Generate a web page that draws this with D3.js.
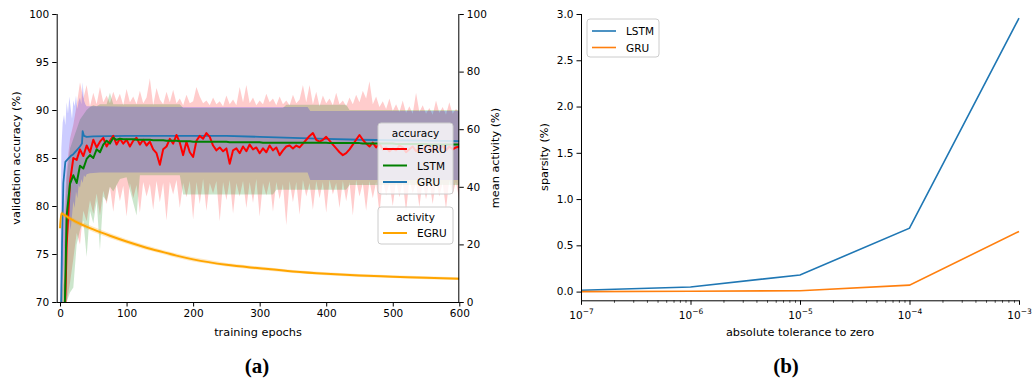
<!DOCTYPE html>
<html>
<head>
<meta charset="utf-8">
<script src="https://cdn.jsdelivr.net/npm/d3@7"></script>
<style>
  body { margin: 0; background: #fff; }
  svg text { font-family: 'DejaVu Sans', sans-serif; fill: #000; }
</style>
</head>
<body>
<svg id="chart" width="1034" height="381"></svg>
<script>
// ---------- data, panel (a) ----------
const epochs5 = d3.range(0, 601, 5);

const egruMean = [
  55, 62, 76, 82.5, 85.0, 84.8, 85.9, 85.2, 86.3, 85.6,
  86.9, 86.1, 86.7, 87.1, 86.2, 86.8, 87.3, 86.4, 87.0, 86.5,
  86.9, 86.2, 86.8, 87.1, 86.4, 86.9, 86.3, 86.7, 85.9, 85.5,
  84.3, 85.9, 86.2, 87.0, 86.5, 87.4, 86.6, 85.3, 86.7, 85.6,
  85.1, 86.8, 87.3, 87.0, 87.6, 87.2, 86.3, 85.8, 86.1, 85.7,
  86.0, 84.4, 85.8, 86.0, 85.5, 86.2, 85.7, 86.4, 85.9, 86.1,
  85.5, 86.0, 85.6, 86.3, 85.8, 86.1, 85.3, 85.8, 86.2, 86.3,
  86.0, 86.3, 86.1, 86.5, 86.9, 87.3, 87.6, 86.9, 86.7, 86.9,
  87.2, 86.8, 86.4, 86.0, 85.6, 85.3, 85.5, 85.9, 86.4, 86.9,
  87.4, 86.9, 86.5, 86.2, 86.6, 86.1, 86.5, 85.9, 86.1, 85.7,
  86.0, 85.8, 86.3, 86.1, 85.6, 85.9, 86.2, 85.7, 86.0, 85.8,
  86.4, 86.1, 85.7, 86.0, 85.9, 86.3, 85.8, 86.2, 85.9, 86.1,
  86.2
];
const egruHi = [
  70, 78, 84, 87, 88.5, 90.5, 92.9, 91.2, 92.6, 90.4,
  91.8, 90.6, 92.4, 90.8, 91.5, 90.7, 91.9, 90.9, 91.7, 90.5,
  92.2, 90.8, 91.4, 90.6, 92.0, 90.7, 91.3, 93.3, 90.5, 92.3,
  91.1, 90.6, 91.9, 90.8, 92.1, 90.7, 91.2, 90.5, 91.6, 90.7,
  90.9, 92.4, 91.4, 90.7, 91.0, 90.5, 91.3, 90.6, 90.9, 90.4,
  91.5, 90.6, 91.1, 90.5, 92.4, 90.8, 92.6, 90.7, 91.3, 90.5,
  91.0, 90.6, 91.7, 90.8, 91.2, 90.5, 91.4, 90.6, 91.0, 90.5,
  91.6, 90.7, 91.1, 92.6, 90.8, 92.6, 90.6, 91.9, 90.4, 91.5,
  90.7, 91.2, 90.5, 91.8, 90.6, 91.0, 90.4, 91.3, 90.6, 91.6,
  90.8, 92.0, 91.2, 93.0, 90.6, 91.4, 90.3, 90.9, 90.1, 91.2,
  89.9, 90.6, 89.8, 91.0, 89.7, 90.4, 89.6, 91.8, 89.8, 90.5,
  89.6, 90.2, 89.5, 91.0, 89.7, 90.3, 89.5, 90.8, 89.6, 90.1,
  89.8
];
const egruLo = [
  70, 70, 70, 72, 74.5, 77.2, 76.0, 79.5, 78.4, 80.6,
  79.2, 81.3, 79.0, 81.6, 80.2, 82.0, 79.4, 82.3, 80.5, 82.1,
  78.9, 82.4, 80.8, 82.2, 79.3, 82.5, 81.0, 82.3, 79.6, 82.6,
  80.4, 82.4, 78.5, 82.5, 81.2, 82.7, 79.8, 82.4, 80.9, 82.6,
  78.6, 82.5, 80.2, 82.8, 79.5, 82.4, 81.3, 82.6, 78.4, 82.5,
  80.6, 82.7, 79.2, 82.4, 81.0, 82.6, 79.8, 82.5, 80.3, 82.8,
  78.9, 82.4, 81.1, 82.6, 79.4, 82.5, 80.7, 82.3, 78.0, 82.6,
  80.4, 82.5, 79.1, 82.7, 81.0, 82.4, 79.6, 82.6, 80.8, 82.5,
  79.3, 82.7, 81.2, 82.4, 79.8, 82.6, 80.5, 82.5, 79.0, 82.7,
  81.0, 82.4, 79.5, 82.6, 80.8, 82.5, 79.2, 82.7, 81.1, 82.4,
  80.0, 82.6, 80.9, 82.5, 79.4, 82.7, 81.3, 82.4, 79.9, 82.6,
  80.7, 82.5, 80.2, 82.6, 81.0, 82.4, 79.7, 82.7, 81.2, 82.5,
  80.6
];

const lstmMean = [
  50, 62, 79, 82.3, 83.2, 82.4, 84.2, 83.9, 84.9, 85.3,
  85.0, 85.9, 85.6, 86.4, 86.8, 86.5, 87.1, 86.9, 87.0, 86.95,
  86.95, 86.95, 86.95, 86.9, 86.9, 86.9, 86.9, 86.9, 86.85, 86.85,
  86.85, 86.85, 86.8, 86.8, 86.8, 86.8, 86.75, 86.75, 86.75, 86.75,
  86.7, 86.7, 86.7, 86.7, 86.7, 86.7, 86.7, 86.7, 86.7, 86.7,
  86.7, 86.65, 86.65, 86.65, 86.65, 86.65, 86.65, 86.65, 86.65, 86.65,
  86.65, 86.6, 86.6, 86.6, 86.6, 86.6, 86.6, 86.6, 86.6, 86.6,
  86.6, 86.6, 86.6, 86.6, 86.6, 86.6, 86.6, 86.6, 86.6, 86.6,
  86.6, 86.55, 86.55, 86.55, 86.55, 86.55, 86.55, 86.55, 86.55, 86.55,
  86.55, 86.5, 86.5, 86.5, 86.5, 86.5, 86.5, 86.5, 86.5, 86.5,
  86.5, 86.45, 86.45, 86.45, 86.45, 86.45, 86.45, 86.45, 86.45, 86.45,
  86.45, 86.4, 86.4, 86.4, 86.4, 86.4, 86.4, 86.4, 86.4, 86.4,
  86.4
];
const lstmBandEpochs = [0, 5, 10, 15, 20, 25, 30, 35, 40, 45, 50, 55, 60, 65, 70, 75, 80, 90, 100, 115, 120, 180, 185, 320, 325, 335, 340, 430, 435, 600];
const lstmBandHi = [70, 72, 83, 86, 87, 88, 89, 89.5, 90, 90.3, 90.5, 90.4, 90.6, 90.6, 90.6, 91.8, 90.6, 90.6, 90.6, 90.6, 90.6, 90.6, 90.2, 90.2, 90.2, 90.2, 90.55, 90.55, 90.0, 90.0];
const lstmBandLo = [70, 70, 70, 71, 71.5, 76, 77.5, 78.5, 74.7, 79.5, 78.2, 80.5, 75.4, 81, 80.5, 82, 81.5, 82.8, 83, 79, 83.2, 83.2, 81.2, 81.2, 81.7, 81.7, 81.7, 81.7, 82.2, 82.2];

const gruEpochs = [0, 3, 5, 8, 12, 16, 20, 25, 30, 33, 34, 36, 40, 50, 100, 150, 200, 250, 300, 350, 400, 450, 500, 550, 600];
const gruMean = [60, 76, 82.4, 84.6, 84.9, 85.2, 85.4, 85.8, 86.2, 86.5, 87.8, 87.3, 87.2, 87.25, 87.3, 87.3, 87.3, 87.3, 87.2, 87.1, 87.0, 86.9, 86.85, 86.8, 86.75];
const gruBandEpochs = [0, 2, 4, 6, 8, 10, 12, 14, 16, 18, 20, 22, 24, 26, 28, 30, 32, 34, 36, 38, 40, 45, 60, 100, 200, 300, 372, 376, 600];
const gruBandHi = [70, 86, 88.7, 89.5, 88.4, 90.8, 89.6, 91.4, 90.2, 89.1, 91.0, 90.4, 91.5, 90.1, 90.9, 91.3, 90.6, 92.9, 91.0, 90.6, 90.4, 90.4, 90.4, 90.35, 90.3, 90.3, 90.3, 89.9, 89.9];
const gruBandLo = [70, 70, 72, 74, 76.5, 75, 77, 78.5, 77.5, 79, 80.5, 79.8, 81.5, 80.8, 82.2, 81.9, 82.8, 82.4, 83.2, 83.0, 83.3, 83.4, 83.5, 83.5, 83.5, 83.5, 83.5, 82.7, 82.7];

const activityEpochs = [0, 2, 5, 10, 25, 50, 75, 100, 125, 150, 175, 200, 250, 300, 350, 400, 450, 500, 550, 600];
const activityMean = [25.6, 30.8, 30.4, 29.7, 27.7, 25.2, 23.0, 21.0, 19.2, 17.6, 16.1, 14.8, 12.9, 11.7, 10.6, 9.8, 9.2, 8.8, 8.4, 8.1];
const activityStd = [1.5, 1.0, 0.9, 0.8, 0.8, 0.9, 0.9, 0.8, 0.8, 0.7, 0.7, 0.7, 0.6, 0.6, 0.5, 0.5, 0.5, 0.5, 0.5, 0.5];

const accTicks = [70, 75, 80, 85, 90, 95, 100];
const actTicks = [0, 20, 40, 60, 80, 100];
const epochTicks = [0, 100, 200, 300, 400, 500, 600];

// ---------- data, panel (b) ----------
const tolerance = [1e-7, 1e-6, 1e-5, 1e-4, 1e-3];
const lstmSparsity = [0.015, 0.05, 0.18, 0.685, 2.955];
const gruSparsity = [0.0, 0.004, 0.01, 0.07, 0.65];
const sparsityTicks = [0, 0.5, 1.0, 1.5, 2.0, 2.5, 3.0];
const tolTicks = [1e-7, 1e-6, 1e-5, 1e-4, 1e-3];

const svg = d3.select('#chart');
const fs = 10.5;
const labelFs = 11.3;

// ================= panel (a) =================
const x = d3.scaleLinear().domain([-5, 600]).range([56.7, 459.3]);
const y = d3.scaleLinear().domain([70, 100]).range([302, 14]);
const yAct = d3.scaleLinear().domain([0, 100]).range([302, 14]);

svg.append('clipPath').attr('id', 'clipA')
  .append('rect').attr('x', 56.7).attr('y', 14).attr('width', 402.6).attr('height', 288);

const plotA = svg.append('g').attr('clip-path', 'url(#clipA)');

function band(xs, lo, hi, color, opacity, yScale) {
  const pts = xs.map((e, i) => ({ e, lo: lo[i], hi: hi[i] }));
  plotA.append('path')
    .datum(pts)
    .attr('fill', color)
    .attr('fill-opacity', opacity)
    .attr('d', d3.area().x(d => x(d.e)).y0(d => yScale(d.lo)).y1(d => yScale(d.hi)));
}

function line(xs, vals, color, width, yScale, curve) {
  plotA.append('path')
    .datum(xs.map((e, i) => ({ e, v: vals[i] })))
    .attr('fill', 'none')
    .attr('stroke', color)
    .attr('stroke-width', width)
    .attr('stroke-linejoin', 'round')
    .attr('d', d3.line().x(d => x(d.e)).y(d => yScale(d.v)).curve(curve || d3.curveLinear));
}

band(epochs5, egruLo, egruHi, '#ff0000', 0.2, y);
band(lstmBandEpochs, lstmBandLo, lstmBandHi, '#008000', 0.2, y);
band(gruBandEpochs, gruBandLo, gruBandHi, '#0000ff', 0.2, y);

line(gruEpochs, gruMean, '#1f77b4', 1.8, y);
line(epochs5, egruMean, '#ff0000', 2, y);
line(epochs5, lstmMean, '#008000', 2, y);

band(activityEpochs,
  activityMean.map((v, i) => v - activityStd[i]),
  activityMean.map((v, i) => v + activityStd[i]),
  '#ffa500', 0.25, yAct);
line(activityEpochs, activityMean, '#ffa500', 2, yAct, d3.curveMonotoneX);

// axes (a)
const axA = svg.append('g').attr('transform', 'translate(0,302)')
  .call(d3.axisBottom(x).tickValues(epochTicks).tickSize(4.5).tickPadding(3));
const ayA = svg.append('g').attr('transform', 'translate(56.7,0)')
  .call(d3.axisLeft(y).tickValues(accTicks).tickSize(4.5).tickPadding(3));
const ayA2 = svg.append('g').attr('transform', 'translate(459.3,0)')
  .call(d3.axisRight(yAct).tickValues(actTicks).tickSize(4.5).tickPadding(3));

[axA, ayA, ayA2].forEach(g => {
  g.selectAll('.domain').attr('stroke', '#000').attr('stroke-width', 1);
  g.selectAll('.tick line').attr('stroke', '#000');
  g.selectAll('.tick text').style('font-size', fs + 'px').attr('fill', '#000');
});
// spines without outer ticks
axA.select('.domain').attr('d', 'M56.7,0.5H459.3');
ayA.select('.domain').attr('d', 'M0.5,302V14');
ayA2.select('.domain').attr('d', 'M-0.5,302V14');

svg.append('text').attr('x', 258).attr('y', 336).attr('text-anchor', 'middle')
  .style('font-size', labelFs + 'px').text('training epochs');
svg.append('text').attr('transform', 'translate(20,158) rotate(-90)').attr('text-anchor', 'middle')
  .style('font-size', labelFs + 'px').text('validation accuracy (%)');
svg.append('text').attr('transform', 'translate(499,158) rotate(-90)').attr('text-anchor', 'middle')
  .style('font-size', labelFs + 'px').text('mean activity (%)');

// legends
function legend(x0, y0, w, h, title, items) {
  const g = svg.append('g');
  g.append('rect').attr('x', x0).attr('y', y0).attr('width', w).attr('height', h)
    .attr('rx', 3).attr('fill', '#fff').attr('fill-opacity', 0.8)
    .attr('stroke', '#cccccc').attr('stroke-width', 1);
  let yy = y0 + 12;
  if (title) {
    g.append('text').attr('x', x0 + w / 2).attr('y', y0 + 14).attr('text-anchor', 'middle')
      .style('font-size', fs + 'px').text(title);
    yy = y0 + 26;
  }
  items.forEach((it, i) => {
    const cy = yy + i * 16.5;
    g.append('line').attr('x1', x0 + 5).attr('x2', x0 + 29).attr('y1', cy).attr('y2', cy)
      .attr('stroke', it.color).attr('stroke-width', it.width);
    g.append('text').attr('x', x0 + 39).attr('y', cy + 4)
      .style('font-size', fs + 'px').text(it.label);
  });
}

legend(378, 123, 75, 71, 'accuracy', [
  { label: 'EGRU', color: '#ff0000', width: 2 },
  { label: 'LSTM', color: '#008000', width: 2 },
  { label: 'GRU', color: '#1f77b4', width: 2 }
]);
legend(378, 207, 75, 37, 'activity', [
  { label: 'EGRU', color: '#ffa500', width: 2 }
]);

svg.append('text').attr('x', 257).attr('y', 373).attr('text-anchor', 'middle')
  .style('font-family', "'Liberation Serif', serif").style('font-weight', 'bold').style('font-size', '21px')
  .text('(a)');

// ================= panel (b) =================
const xs = d3.scaleLog().domain([1e-7, 1e-3]).range([581, 1019]);
const ys = d3.scaleLinear().domain([-0.094, 3.0]).range([300.3, 14]);

const sparseLine = d3.line().x(d => xs(d.t)).y(d => ys(d.v));
[[lstmSparsity, '#1f77b4'], [gruSparsity, '#ff7f0e']].forEach(([vals, color]) => {
  svg.append('path')
    .datum(tolerance.map((t, i) => ({ t, v: vals[i] })))
    .attr('fill', 'none').attr('stroke', color).attr('stroke-width', 1.6)
    .attr('d', sparseLine);
});

const minorTicks = [];
[-7, -6, -5, -4].forEach(k => {
  for (let m = 2; m <= 9; m++) minorTicks.push(m * Math.pow(10, k));
});
svg.append('g').attr('transform', 'translate(0,300.3)')
  .call(d3.axisBottom(xs).tickValues(minorTicks).tickSize(2.5).tickFormat(''))
  .call(g => g.select('.domain').remove())
  .selectAll('.tick line').attr('stroke', '#000').attr('stroke-width', 0.7);

const axB = svg.append('g').attr('transform', 'translate(0,300.3)')
  .call(d3.axisBottom(xs).tickValues(tolTicks).tickSize(4.5).tickPadding(3).tickFormat(''));
axB.select('.domain').attr('stroke', '#000').attr('d', 'M581,0.5H1019');
axB.selectAll('.tick line').attr('stroke', '#000');
axB.selectAll('.tick').append('text')
  .attr('y', 18.5).attr('text-anchor', 'middle').attr('fill', '#000')
  .style('font-size', fs + 'px')
  .each(function(d) {
    const t = d3.select(this);
    t.append('tspan').text('10');
    t.append('tspan').attr('dy', -5).style('font-size', '7.5px').text('\u2212' + Math.round(-Math.log10(d)));
  });

const ayB = svg.append('g').attr('transform', 'translate(581,0)')
  .call(d3.axisLeft(ys).tickValues(sparsityTicks).tickSize(4.5).tickPadding(3).tickFormat(d3.format('.1f')));
ayB.select('.domain').attr('stroke', '#000').attr('d', 'M0.5,300.3V14');
ayB.selectAll('.tick line').attr('stroke', '#000');
ayB.selectAll('.tick text').style('font-size', fs + 'px').attr('fill', '#000');

svg.append('text').attr('x', 800).attr('y', 336).attr('text-anchor', 'middle')
  .style('font-size', labelFs + 'px').text('absolute tolerance to zero');
svg.append('text').attr('transform', 'translate(548,157) rotate(-90)').attr('text-anchor', 'middle')
  .style('font-size', labelFs + 'px').text('sparsity (%)');

legend(587, 19, 72, 38, null, [
  { label: 'LSTM', color: '#1f77b4', width: 1.6 },
  { label: 'GRU', color: '#ff7f0e', width: 1.6 }
]);

svg.append('text').attr('x', 786).attr('y', 373).attr('text-anchor', 'middle')
  .style('font-family', "'Liberation Serif', serif").style('font-weight', 'bold').style('font-size', '21px')
  .text('(b)');
</script>
</body>
</html>
